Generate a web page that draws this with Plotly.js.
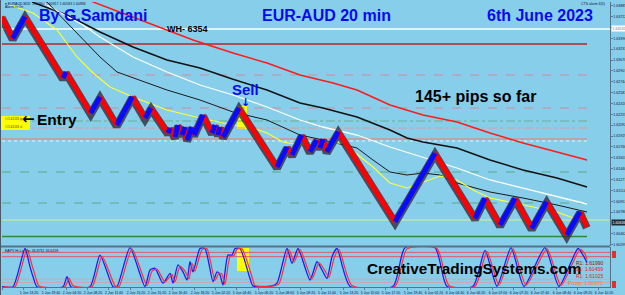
<!DOCTYPE html>
<html><head><meta charset="utf-8">
<script src="https://cdn.plot.ly/plotly-3.0.1.min.js"></script>
<style>html,body{margin:0;padding:0;background:#87CEEB;overflow:hidden}#chart{width:625px;height:295px}</style>
</head><body><div id="chart"></div>
<script>
// ---------------- DATA ----------------
// Renko swing points (bar position, price)
const renkoX = [1.7,12.7,25,63,66,90.7,100,116.7,132.3,145,151,168,170,175,178,182,185,187,192,194,203,212,215,218,220,223,239,277,287,292,301.7,310,316.7,320,323,326.7,338.3,395,435,475,485,500,515,531.7,546.7,566.7,580,586.7];
const renkoY = [1.6372,1.63396,1.6372,1.628,1.6289,1.62275,1.62515,1.62095,1.6252,1.622,1.6235,1.61975,1.6205,1.61915,1.62095,1.61945,1.62065,1.6187,1.62065,1.61945,1.62245,1.61975,1.62095,1.61945,1.62065,1.61915,1.6235,1.61465,1.61765,1.61645,1.61945,1.61695,1.6187,1.6175,1.61885,1.61695,1.61995,1.60645,1.6167,1.60696,1.60996,1.60595,1.60996,1.60546,1.60945,1.60445,1.60795,1.6057];
// Moving averages
const maRedX = [88,133,193,233,267,300,333,357,390,423,457,490,523,557,587];
const maRedY = [1.6397,1.63715,1.6337,1.63175,1.63025,1.62845,1.62725,1.6262,1.62395,1.62245,1.6214,1.61975,1.61825,1.6169,1.6157];
const maBlackX = [32,67,100,133,167,200,233,267,300,323,357,390,407,423,457,490,523,557,587];
const maBlackY = [1.6394,1.63745,1.6349,1.63265,1.6307,1.6295,1.6278,1.6262,1.62425,1.6235,1.62215,1.6202,1.619,1.6184,1.6175,1.6157,1.6142,1.613,1.61165];
const maWhiteX = [40,50,83,100,133,167,200,233,267,300,323,357,390,423,457,490,523,557,587];
const maWhiteY = [1.6397,1.63865,1.63595,1.63415,1.63115,1.6289,1.62695,1.62545,1.62365,1.6217,1.62065,1.61945,1.61765,1.61615,1.6145,1.6127,1.6115,1.61015,1.6091];
const maThinX = [45,83,100,117,133,167,200,233,267,300,323,357,373,390,407,423,440,457,490,523,557,587];
const maThinY = [1.6397,1.6337,1.63115,1.6289,1.628,1.6262,1.6247,1.6229,1.6217,1.61945,1.6187,1.6175,1.6157,1.6139,1.61345,1.61375,1.61345,1.61225,1.6109,1.61,1.60895,1.6079];
const maYellowX = [10,33,57,77,93,110,133,167,200,233,250,267,283,300,323,343,373,390,407,423,440,457,473,490,523,557,573,587];
const maYellowY = [1.63895,1.63775,1.6352,1.63115,1.62875,1.62665,1.62515,1.6232,1.622,1.62095,1.62065,1.61975,1.6184,1.61795,1.61825,1.61825,1.61465,1.61225,1.6115,1.6124,1.6133,1.6127,1.6112,1.61,1.60895,1.6079,1.607,1.60715];
// Horizontal price levels
const levelPrices = [1.63535,1.6331,1.62845,1.6235,1.62155,1.6205,1.61885,1.61855,1.6139,1.60925,1.6067,1.604225];
// Oscillator (blue %K and red %D)
const oscX = [2,13,25,30,33,37,63,67,71,90,100,113,117,130,145,150,155,163,170,173,178,183,187,190,193,200,205,213,217,220,223,228,232,235,240,250,253,272,277,287,292,298,310,317,322,327,332,337,350,393,405,435,447,473,485,497,511,524,545,559,578,583,587];
const oscK = [0,0,98,51,26,0,0,26,0,0,81,0,0,100,0,43,47,9,34,9,56,38,17,64,38,98,98,13,38,30,4,81,81,98,98,21,2,2,9,98,60,98,17,64,43,21,77,98,1,1,100,100,1,1,93,1,100,1,100,1,98,81,62];
const oscDX = [4,15,27,32,35,39,65,69,73,92,102,115,119,132,147,152,157,165,172,175,180,185,189,192,195,202,207,215,219,222,225,230,234,237,242,252,255,274,279,289,294,300,312,319,324,329,334,339,352,395,407,437,449,475,487,499,513,526,547,561,580,585,587];
const oscD = [0,0,96,55,30,2,0,22,3,0,78,3,0,97,3,40,45,12,31,12,52,40,20,60,40,95,97,16,35,32,6,77,80,96,97,25,3,2,7,95,63,96,20,61,45,24,73,96,3,1,97,98,3,1,90,4,97,4,97,3,96,84,70];
const oscLevels = [88,77,19,11];
// Axis labels
const yTickVals = [1.63885,1.63722,1.63559,1.63396,1.63233,1.6307,1.62907,1.62744,1.62581,1.62418,1.62255,1.62092,1.61929,1.61766,1.61603,1.6144,1.61277,1.61114,1.60951,1.60788,1.60462,1.60299];
const dateTickX = [2,23,45,66,87,108,130,151,172,194,215,236,258,279,300,321,343,364,385,407,428,449,470,492,513,534,556,577,598];
const dateLabels = ['1 Jun 2023','1 Jun 13:20','1 Jun 19:40','2 Jun 04:20','2 Jun 08:20','2 Jun 11:40','2 Jun 13:20','2 Jun 15:20','2 Jun 16:40','2 Jun 18:20','5 Jun 02:20','5 Jun 04:40','5 Jun 06:20','5 Jun 08:00','5 Jun 09:20','5 Jun 11:40','5 Jun 13:20','5 Jun 15:00','5 Jun 17:20','5 Jun 19:40','6 Jun 01:20','6 Jun 04:40','6 Jun 06:20','6 Jun 07:00','6 Jun 07:20','6 Jun 07:40','6 Jun 08:40','6 Jun 09:20','6 Jun 10:20'];
const whPrice = 1.63535, lastPrice = 1.60636;

// ---------------- LAYOUT HELPERS ----------------
const W=625,H=295,L=2,R=15,T=2,B=8;
const px = x => (x-L)/(W-L-R);
const py = y => (H-B-y)/(H-T-B);
const yLo = 1.6028, yHi = 1.6394;
const FONT = 'Liberation Sans, Arial, DejaVu Sans, sans-serif';
const BG = '#87CEEB';

// Split renko into down (red) and up (blue) legs
const redX=[],redY=[],blueX=[],blueY=[];
for (let i=1;i<renkoX.length;i++){
  const down = renkoY[i] < renkoY[i-1];
  const tx = down?redX:blueX, ty = down?redY:blueY;
  tx.push(renkoX[i-1],renkoX[i],null); ty.push(renkoY[i-1],renkoY[i],null);
}

const traces = [
  {x:maRedX,y:maRedY,mode:'lines',line:{color:'#ff1a1a',width:1.5}},
  {x:maBlackX,y:maBlackY,mode:'lines',line:{color:'#111111',width:1.5}},
  {x:maWhiteX,y:maWhiteY,mode:'lines',line:{color:'#ffffff',width:1.3}},
  {x:maThinX,y:maThinY,mode:'lines',line:{color:'#1a1a1a',width:1}},
  {x:maYellowX,y:maYellowY,mode:'lines',line:{color:'#ffff33',width:1.1}},
  {x:renkoX,y:renkoY,mode:'lines',yaxis:'y3',line:{color:'rgba(50,45,60,0.8)',width:8}},
  {x:redX,y:redY,mode:'lines',yaxis:'y4',line:{color:'#ff0000',width:5}},
  {x:blueX,y:blueY,mode:'lines',yaxis:'y4',line:{color:'#0a0aff',width:5}},
  {x:oscX,y:oscK,mode:'lines',yaxis:'y2',line:{color:'#1a1aff',width:1.3,shape:'spline',smoothing:0.6}},
  {x:oscDX,y:oscD,mode:'lines',yaxis:'y2',line:{color:'#ff3030',width:1.2,shape:'spline',smoothing:0.6}}
].map(t=>Object.assign({hoverinfo:'skip',showlegend:false,type:'scatter'},t));

const levelStyle = [
  {c:'#ffffff',w:1.3,d:'solid',x1:610},
  {c:'#b02828',w:1.3,d:'solid',x1:587},
  {c:'#d08c9c',w:1,d:'dash',x1:587},
  {c:'#d08c9c',w:1,d:'dash',x1:587},
  {c:'#6aae8c',w:1,d:'dashdot',x1:587},
  {c:'#e09c92',w:1,d:'dashdot',x1:587},
  {c:'#f07a68',w:1.2,d:'solid',x1:587},
  {c:'#ffffff',w:0.8,d:'dot',x1:587},
  {c:'#5aa886',w:1,d:'dash',x1:587},
  {c:'#5aa886',w:1,d:'dash',x1:587},
  {c:'#d6f08c',w:1,d:'solid',x1:610},
  {c:'#2a8a3a',w:1.5,d:'solid',x1:587}
];
const shapes = [];
shapes.push({type:'rect',xref:'paper',yref:'paper',x0:px(237),x1:px(247),y0:py(129),y1:py(106),fillcolor:'#ffff00',line:{width:0},layer:'below'});
shapes.push({type:'rect',xref:'paper',yref:'paper',x0:px(237),x1:px(249),y0:py(271),y1:py(248),fillcolor:'#ffff00',line:{width:0},layer:'below'});
levelPrices.forEach((p,i)=>{
  const s=levelStyle[i];
  shapes.push({type:'line',xref:'x',yref:'y',x0:2,x1:s.x1,y0:p,y1:p,line:{color:s.c,width:s.w,dash:s.d},layer:'below'});
});
const oscColors=['#e05a6a','#e05a6a','#d8a2b2','#d8a2b2'];
oscLevels.forEach((v,i)=>{
  shapes.push({type:'line',xref:'x',yref:'y2',x0:2,x1:610,y0:v,y1:v,line:{color:oscColors[i],width:1},layer:'below'});
});
shapes.push({type:'rect',xref:'paper',yref:'paper',x0:px(1),x1:px(30),y0:py(130),y1:py(116),fillcolor:'#ffff00',line:{width:0},layer:'above'});
shapes.push({type:'line',xref:'paper',yref:'paper',x0:px(0),x1:px(610),y0:py(246.5),y1:py(246.5),line:{color:'#557488',width:2.2}});
shapes.push({type:'line',xref:'paper',yref:'paper',x0:px(0.5),x1:px(0.5),y0:py(0),y1:py(295),line:{color:'#4a5a66',width:1}});
shapes.push({type:'rect',xref:'paper',yref:'paper',x0:px(612),x1:px(616),y0:py(258),y1:py(251),fillcolor:'#e03030',line:{width:0}});
shapes.push({type:'rect',xref:'paper',yref:'paper',x0:px(612),x1:px(616),y0:py(288),y1:py(281),fillcolor:'#e03030',line:{width:0}});

function ann(text,x,y,size,color,extra){
  return Object.assign({text:text,xref:'paper',yref:'paper',x:px(x),y:py(y),showarrow:false,
    xanchor:'center',yanchor:'middle',font:{family:FONT,size:size,color:color}},extra||{});
}
const annotations = [
  ann('<b>By G.Samdani</b>',93,15.5,16,'#0a0af0'),
  ann('<b>EUR-AUD 20 min</b>',326.5,15.5,16,'#0a0af0'),
  ann('<b>6th June 2023</b>',540,15.5,16,'#0a0af0'),
  ann('<b>WH- 6354</b>',187,29,9,'#000000'),
  ann('<b>145+ pips so far</b>',475,96.5,16,'#000000'),
  ann('<b>Sell</b>',245.5,89.5,15,'#0a0af0'),
  ann('<b>↓</b>',245,102,11,'#0a0af0',{font:{family:'DejaVu Sans, sans-serif',size:11,color:'#0a0af0'}}),
  ann('<b>Entry</b>',57,119.5,15.5,'#000000'),
  ann('<b>←</b>',28,119,15,'#000000',{font:{family:'DejaVu Sans, sans-serif',size:15,color:'#000000'}}),
  ann('<b>CreativeTradingSystems.com</b>',474,268.5,15.3,'#000000'),
  ann('▾ EURAUD,M20  1.60869 1.60917 1.60583 1.60836',3,3.5,3.5,'#10104a',{xanchor:'left'}),
  ann('Alarm is On',3,7.5,3.5,'#10104a',{xanchor:'left'}),
  ann('CTS alarm 6(5)',607,4,3.5,'#10104a',{xanchor:'right'}),
  ann('EAPV Hi-Lo Osc 46.8731 46.6418',3,250.5,3.5,'#10104a',{xanchor:'left'}),
  ann('##1.62131 tp',3,119,3,'#333300',{xanchor:'left'}),
  ann('##1.62131 sl',3,127,3,'#333300',{xanchor:'left'}),
  ann('R1: 1.61990',605,262.5,5,'#8b1010',{xanchor:'right'}),
  ann('S1: 1.60459',605,269,5,'#e02020',{xanchor:'right'}),
  ann('R1: 1.61025',605,276,5,'#e02020',{xanchor:'right'}),
  ann('Pivots: 1.60970',605,283,5,'#ff7a10',{xanchor:'right'}),
  ann(whPrice.toFixed(5),610.5,28.5,3.6,'#667788',{xanchor:'left',bgcolor:'#ffffff',borderpad:0.5}),
  ann(lastPrice.toFixed(5),610.5,222.5,3.6,'#ffffff',{xanchor:'left',bgcolor:'#1d2b38',borderpad:0.5})
];

const layout = {
  width:W,height:H,margin:{l:L,r:R,t:T,b:B,pad:0},
  paper_bgcolor:BG,plot_bgcolor:BG,showlegend:false,
  xaxis:{domain:[0,1],range:[2,610],anchor:'y2',showgrid:false,zeroline:false,showline:true,linecolor:'#557488',linewidth:1,
    tickmode:'array',tickvals:dateTickX,ticktext:dateLabels,ticks:'outside',ticklen:2,tickcolor:'#446',tickwidth:0.6,
    ticklabelshift:6,tickfont:{family:FONT,size:3.5,color:'#10104a'}},
  yaxis:{domain:[py(246),1],range:[yLo,yHi],anchor:'x',side:'right',showgrid:false,zeroline:false,showline:true,linecolor:'#557488',linewidth:1,
    tickmode:'array',tickvals:yTickVals,tickformat:'.5f',ticks:'outside',ticklen:1.5,tickcolor:'#446',tickwidth:0.6,
    tickfont:{family:FONT,size:3.6,color:'#10104a'}},
  yaxis2:{domain:[0,py(247)],range:[-0.8,101.8],anchor:'x',side:'right',showgrid:false,zeroline:false,showline:true,linecolor:'#557488',showticklabels:false,ticks:''},
  yaxis3:{overlaying:'y',range:[yLo+0.00018,yHi+0.00018],visible:false,anchor:'x'},
  yaxis4:{overlaying:'y',range:[yLo,yHi],visible:false,anchor:'x'},
  shapes:shapes,annotations:annotations
};
Plotly.newPlot('chart',traces,layout,{displayModeBar:false,staticPlot:true});
</script></body></html>
